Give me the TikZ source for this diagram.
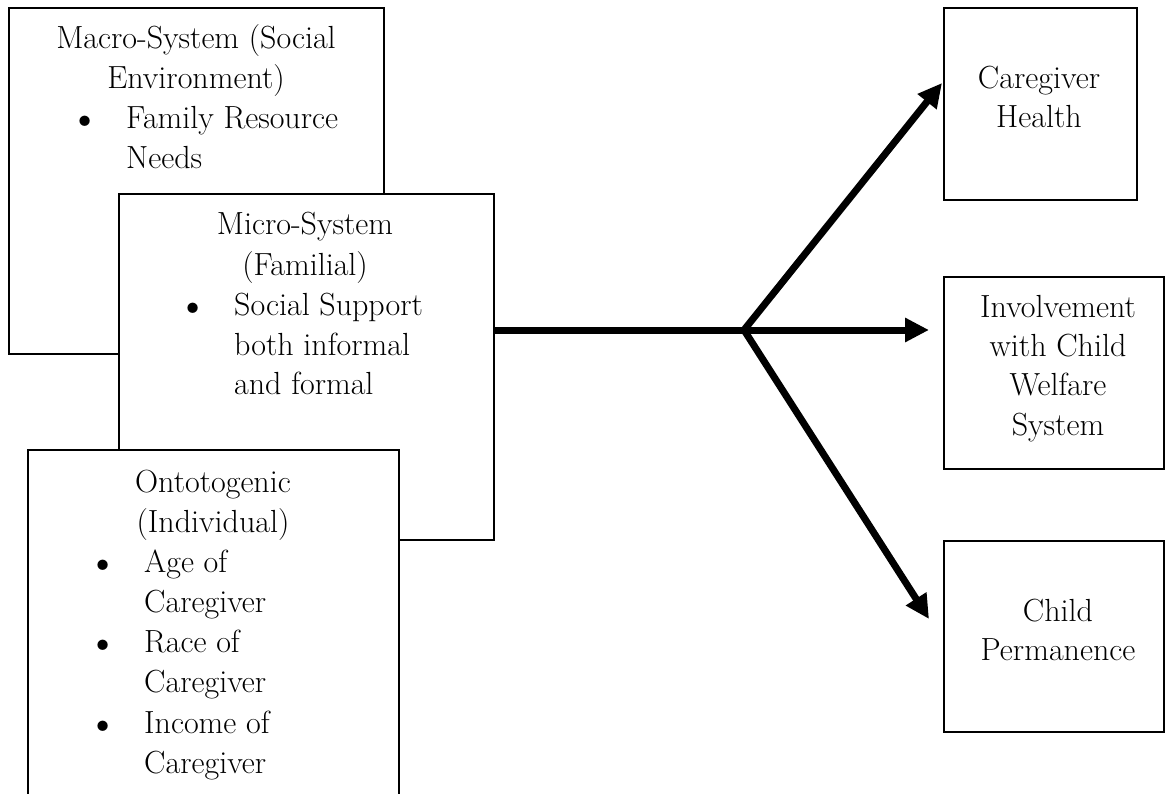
\documentclass[tikz,border=0pt]{standalone}
\usetikzlibrary{arrows.meta}
\begin{document}
\begin{tikzpicture}[x=1pt,y=-1pt,
  box/.style={draw=black, line width=1.8pt, fill=white, inner sep=0pt, anchor=north west},
  txt/.style={inner sep=0pt, font=\fontsize{32}{40}\selectfont},
  bul/.style={inner sep=0pt, anchor=base, font=\fontsize{46}{40}\selectfont, yshift=-5pt},
  conn/.style={line width=7pt, -{Triangle[length=24pt,width=23pt]}},
  trunk/.style={line width=7pt},
]
\clip (0,0) rectangle (1166,794);
% left boxes
\node[box, minimum width=375pt, minimum height=346pt] (macro) at (8,7) {};
\node[txt, anchor=base] (m1) at (196,49) {Macro-System (Social};
\node[txt, anchor=base] (m2) at (196,89) {Environment)};
\node[bul] (mb1) at (85,129) {\textbullet};
\node[txt, anchor=base west] (m3) at (126,129) {Family Resource};
\node[txt, anchor=base west] (m4) at (126,169) {Needs};

\node[box, minimum width=375pt, minimum height=346pt] (micro) at (118,193) {};
\node[txt, anchor=base] (f1) at (305,235) {Micro-System};
\node[txt, anchor=base] (f2) at (305,275) {(Familial)};
\node[bul] (fb1) at (193,315) {\textbullet};
\node[txt, anchor=base west] (f3) at (234,315) {Social Support};
\node[txt, anchor=base west] (f4) at (234,355) {both informal};
\node[txt, anchor=base west] (f5) at (234,394) {and formal};

\node[box, minimum width=371pt, minimum height=380pt] (onto) at (27,449) {};
\node[txt, anchor=base] (o1) at (213,492) {Ontotogenic};
\node[txt, anchor=base] (o2) at (213,532) {(Individual)};
\node[bul] (ob1) at (103,572) {\textbullet};
\node[txt, anchor=base west] (o3) at (144,572) {Age of};
\node[txt, anchor=base west] (o4) at (144,612) {Caregiver};
\node[bul] (ob2) at (103,652) {\textbullet};
\node[txt, anchor=base west] (o5) at (144,652) {Race of};
\node[txt, anchor=base west] (o6) at (144,692) {Caregiver};
\node[bul] (ob3) at (103,733) {\textbullet};
\node[txt, anchor=base west] (o7) at (144,733) {Income of};
\node[txt, anchor=base west] (o8) at (144,773) {Caregiver};

% right boxes
\node[box, minimum width=193pt, minimum height=192pt] (ch) at (943,7) {};
\node[txt, anchor=base] (c1) at (1039,89) {Caregiver};
\node[txt, anchor=base] (c2) at (1039,128) {Health};

\node[box, minimum width=220pt, minimum height=192pt] (inv) at (943,276) {};
\node[txt, anchor=base] (i1) at (1058,317) {Involvement};
\node[txt, anchor=base] (i2) at (1058,356) {with Child};
\node[txt, anchor=base] (i3) at (1058,395) {Welfare};
\node[txt, anchor=base] (i4) at (1058,435) {System};

\node[box, minimum width=220pt, minimum height=191pt] (perm) at (943,540) {};
\node[txt, anchor=base] (p1) at (1058,621) {Child};
\node[txt, anchor=base] (p2) at (1058,660) {Permanence};

% connectors
\coordinate (j) at (744,330);
\coordinate (t1) at (942,83);
\coordinate (t2) at (929,330);
\coordinate (t3) at (929,619);
\draw[trunk] (micro.east |- j) -- (j);
\draw[conn] (j) -- (t1);
\draw[conn] (j) -- (t2);
\draw[conn] (j) -- (t3);
\end{tikzpicture}
\end{document}
